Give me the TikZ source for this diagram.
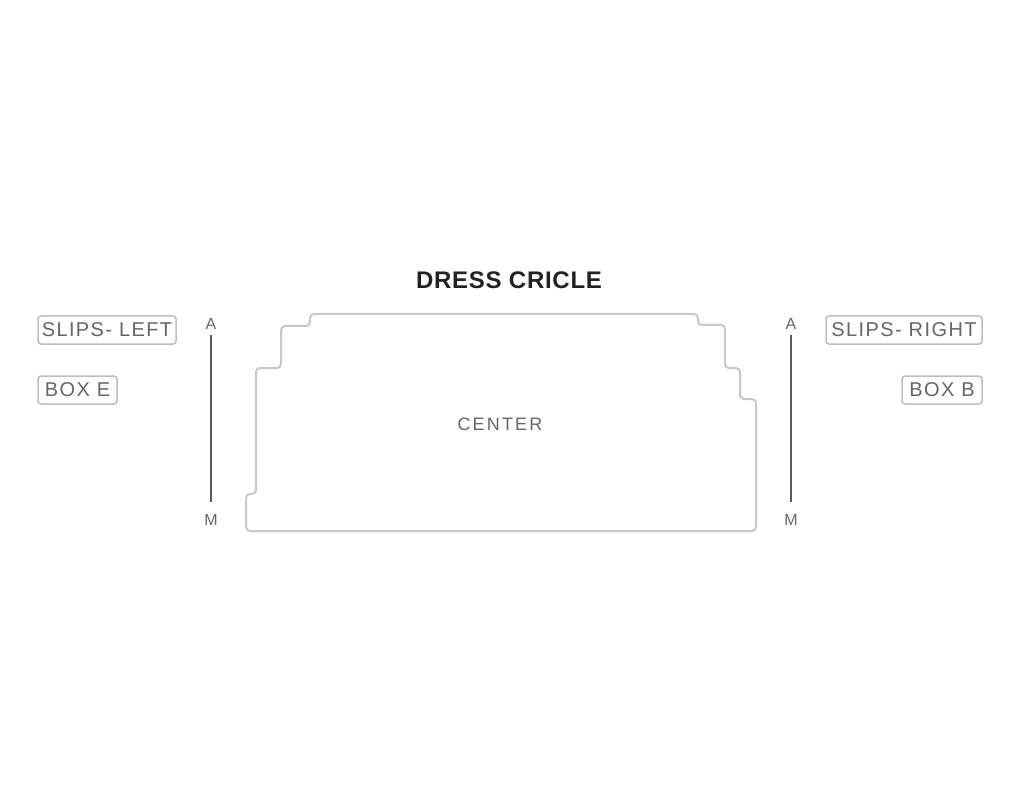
\documentclass[tikz,border=0pt]{standalone}
\usepackage{fontspec}
\setmainfont{Liberation Sans}
\newfontfamily\lblfont[LetterSpace=7]{Liberation Sans}
\newfontfamily\ctrfont[LetterSpace=12]{Liberation Sans}
\newfontfamily\ttlfont[LetterSpace=3]{Liberation Sans}
\definecolor{outlinegray}{HTML}{C8C8C8}
\definecolor{boxgray}{HTML}{BDBDBD}
\definecolor{textgray}{HTML}{666666}
\definecolor{linegray}{HTML}{5A5A5A}
\definecolor{titlegray}{HTML}{222222}
\tikzset{
  seclabel/.style={draw=boxgray, line width=1.5pt, rounded corners=3pt, text=textgray,
    font=\lblfont\fontsize{20}{20}\selectfont, inner sep=0pt, minimum height=28pt, align=center},
  rowlabel/.style={text=textgray, font=\fontsize{16}{16}\selectfont, inner sep=0pt},
  rowline/.style={draw=linegray, line width=2pt},
  stage/.style={draw=outlinegray, line width=2pt, rounded corners=4pt}
}
\begin{document}
\begin{tikzpicture}[x=1pt,y=-1pt]
\useasboundingbox (0,0) rectangle (1020,802);
% title
\node[text=titlegray, font=\ttlfont\bfseries\fontsize{24}{24}\selectfont, inner sep=0pt] (title) at (509,280) {DRESS CRICLE};
% center section outline
\draw[stage] (310,314) -- (698,314) -- (698,325) -- (725,325) -- (725,368) -- (740,368)
  -- (740,399) -- (756,399) -- (756,531) -- (246,531) -- (246,494) -- (256,494)
  -- (256,368) -- (281,368) -- (281,326) -- (310,326) -- cycle;
\node[text=textgray, font=\ctrfont\fontsize{18}{18}\selectfont, inner sep=0pt] (center) at (500,424) {CENTER};
% side labels
\node[seclabel, minimum width=138pt] (slipsL) at (107,330) {SLIPS- LEFT};
\node[seclabel, minimum width=79pt] (boxE) at (77.5,390) {BOX E};
\node[seclabel, minimum width=156pt] (slipsR) at (904,330) {SLIPS- RIGHT};
\node[seclabel, minimum width=80pt] (boxB) at (942,390) {BOX B};
% row indicators
\node[rowlabel] (aL) at (211,324) {A};
\node[rowlabel] (mL) at (211,520) {M};
\node[rowlabel] (aR) at (791,324) {A};
\node[rowlabel] (mR) at (791,520) {M};
\draw[rowline, shorten <=11pt, shorten >=18pt] (aL.center) -- (mL.center);
\draw[rowline, shorten <=11pt, shorten >=18pt] (aR.center) -- (mR.center);
\end{tikzpicture}
\end{document}
